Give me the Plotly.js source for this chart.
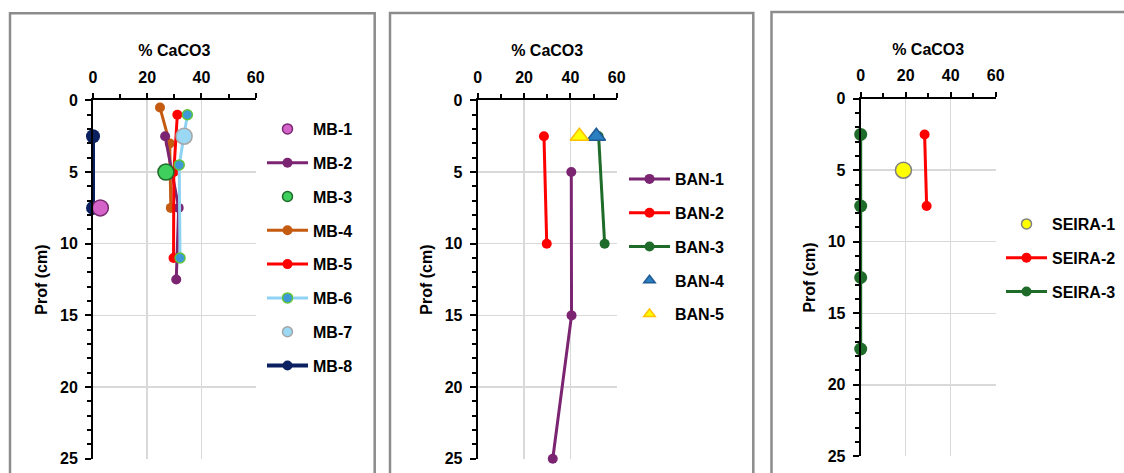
<!DOCTYPE html>
<html><head><meta charset="utf-8">
<script src="https://cdn.plot.ly/plotly-3.0.1.min.js"></script>
<style>html,body{margin:0;padding:0;background:#fff}#chart{width:1124px;height:473px}</style>
</head><body><div id="chart"></div><script>
// ---------- data (x = % CaCO3, y = depth cm) ----------
const mb1X = [2.7],              mb1Y = [7.5];
const mb2X = [26.6, 31.6, 30.7], mb2Y = [2.5, 7.5, 12.5];
const mb3X = [26.9],             mb3Y = [5];
const mb4X = [24.7, 28.3, 28.7], mb4Y = [0.5, 3, 7.5];
const mb5X = [31.1, 29.8, 29.7], mb5Y = [1, 5, 11];
const mb6X = [34.8, 31.8, 32.1], mb6Y = [1, 4.5, 11];
const mb7X = [33.6],             mb7Y = [2.5];
const mb8X = [0, 0],             mb8Y = [2.5, 7.5];

const ban1X = [40.4, 40.5, 32.4], ban1Y = [5, 15, 25];
const ban2X = [28.6, 29.8],       ban2Y = [2.5, 10];
const ban3X = [52.2, 54.8],       ban3Y = [2.5, 10];
const ban4X = [51.2],             ban4Y = [2.5];
const ban5X = [43.9],             ban5Y = [2.5];

const sei1X = [19.0],             sei1Y = [5];
const sei2X = [28.4, 29.3],       sei2Y = [2.5, 7.5];
const sei3X = [0, 0, 0, 0],       sei3Y = [2.5, 7.5, 12.5, 17.5];

const mbNames  = ['MB-1','MB-2','MB-3','MB-4','MB-5','MB-6','MB-7','MB-8'];
const banNames = ['BAN-1','BAN-2','BAN-3','BAN-4','BAN-5'];
const seiNames = ['SEIRA-1','SEIRA-2','SEIRA-3'];

const xTitle = '% CaCO3', yTitle = 'Prof (cm)';
const xTicks = [0, 20, 40, 60];
const yTicks = [0, 5, 10, 15, 20, 25];

// ---------- styling ----------
const FONT = 'Liberation Sans, Arial, sans-serif';
const W = 1124, H = 473;

const PURPLE = '#7b2572', RED = '#ff0000', DGREEN = '#1e6b2a', ORANGE = '#c55a11',
      NAVY = '#0a2060', LBLUE = '#8fd3f4';

// style per series: [lineColor|null, lineWidth, markerSize, markerColor, markerLineColor, symbol, markerLineWidth]
const STY = {
  'MB-1':   [null,   0, 16, '#d464c9', '#7a2a72', 'circle', 1.5],
  'MB-2':   [PURPLE, 3, 10, PURPLE, PURPLE, 'circle', 0],
  'MB-3':   [null,   0, 16, '#3fcf5c', '#1f6b2a', 'circle', 1.5],
  'MB-4':   [ORANGE, 3, 10, ORANGE, ORANGE, 'circle', 0],
  'MB-5':   [RED,    3, 10, RED, RED, 'circle', 0],
  'MB-6':   [LBLUE,  3, 10, '#3d9ad6', '#5fc43a', 'circle', 1.5],
  'MB-7':   [null,   0, 16, '#9bd8f4', '#a6a6a6', 'circle', 1.5],
  'MB-8':   [NAVY,   4, 14, NAVY, NAVY, 'circle', 0],
  'BAN-1':  [PURPLE, 3, 10, PURPLE, PURPLE, 'circle', 0],
  'BAN-2':  [RED,    3, 10, RED, RED, 'circle', 0],
  'BAN-3':  [DGREEN, 3, 10, DGREEN, DGREEN, 'circle', 0],
  'BAN-4':  [null,   0, 16, '#2a7fc1', '#1f5a94', 'triangle-up', 1.5],
  'BAN-5':  [null,   0, 16, '#ffff00', '#ffc000', 'triangle-up', 1.5],
  'SEIRA-1':[null,   0, 16, '#ffff00', '#808080', 'circle', 1.5],
  'SEIRA-2':[RED,    3, 10, RED, RED, 'circle', 0],
  'SEIRA-3':[DGREEN, 3, 13, DGREEN, DGREEN, 'circle', 0],
};

function series(name, x, y, xa, ya) {
  const s = STY[name];
  const t = {type:'scatter', mode: s[0] ? 'lines+markers' : 'markers', name, x, y,
    xaxis:xa, yaxis:ya, showlegend:false, legendgroup:name, cliponaxis:false,
    marker:{size:s[2], color:s[3], symbol:s[5], line:{color:s[4], width:s[6]}}};
  if (s[0]) t.line = {color:s[0], width:s[1]};
  return t;
}
// legend entry (no data drawn), with the smaller legend symbol of the reference
function legendEntry(name, leg, rank) {
  const s = STY[name];
  const t = {type:'scatter', mode: s[0] ? 'lines+markers' : 'markers', name,
    x:[null], y:[null], legend:leg, legendgroup:name, legendrank:rank, showlegend:true,
    marker:{size:10, color:s[3], symbol:s[5], line:{color:s[4], width:s[6]}}};
  if (s[0]) t.line = {color:s[0], width:s[1]};
  return t;
}

const traces = [
  series('MB-8', mb8X, mb8Y, 'x', 'y'),
  series('MB-4', mb4X, mb4Y, 'x', 'y'),
  series('MB-2', mb2X, mb2Y, 'x', 'y'),
  series('MB-5', mb5X, mb5Y, 'x', 'y'),
  series('MB-6', mb6X, mb6Y, 'x', 'y'),
  series('MB-1', mb1X, mb1Y, 'x', 'y'),
  series('MB-3', mb3X, mb3Y, 'x', 'y'),
  series('MB-7', mb7X, mb7Y, 'x', 'y'),

  series('BAN-1', ban1X, ban1Y, 'x2', 'y2'),
  series('BAN-2', ban2X, ban2Y, 'x2', 'y2'),
  series('BAN-3', ban3X, ban3Y, 'x2', 'y2'),
  series('BAN-4', ban4X, ban4Y, 'x2', 'y2'),
  series('BAN-5', ban5X, ban5Y, 'x2', 'y2'),

  series('SEIRA-3', sei3X, sei3Y, 'x3', 'y3'),
  series('SEIRA-2', sei2X, sei2Y, 'x3', 'y3'),
  series('SEIRA-1', sei1X, sei1Y, 'x3', 'y3'),
];
mbNames.forEach((n, i) => traces.push(legendEntry(n, 'legend', i + 1)));
banNames.forEach((n, i) => traces.push(legendEntry(n, 'legend2', i + 1)));
seiNames.forEach((n, i) => traces.push(legendEntry(n, 'legend3', i + 1)));

const tickFont = {family:FONT, size:16, color:'#000', weight:'bold'};
const titleFont = {family:FONT, size:16, color:'#000', weight:'bold'};

function xax(d0, d1, anchor) {
  return {domain:[d0/W, d1/W], anchor, side:'top', range:[0,60], tickvals:xTicks,
    ticks:'outside', ticklen:5, tickwidth:2, tickcolor:'#000', ticklabelstandoff:4,
    showline:true, linecolor:'#000', linewidth:2, zeroline:false,
    showgrid:true, gridcolor:'#d9d9d9', gridwidth:1.5,
    minor:{dtick:10, tick0:0, ticks:'outside', ticklen:4, tickwidth:2, tickcolor:'#000', showgrid:false},
    tickfont:tickFont, title:{text:xTitle, font:titleFont, standoff:8}, fixedrange:true};
}
function yax(top, bot, anchor) {
  return {domain:[(H-bot)/H, (H-top)/H], anchor, range:[25,0], tickvals:yTicks,
    ticks:'outside', ticklen:6, tickwidth:2, tickcolor:'#000', ticklabelstandoff:4,
    showline:true, linecolor:'#000', linewidth:2, zeroline:false,
    showgrid:true, gridcolor:'#d9d9d9', gridwidth:1.5,
    minor:{dtick:1, tick0:0, ticks:'outside', ticklen:4, tickwidth:2, tickcolor:'#000', showgrid:false},
    tickfont:tickFont, title:{text:yTitle, font:titleFont, standoff:8}, fixedrange:true};
}
function leg(xPx, yPx) {
  return {x:xPx/W, y:(H-yPx)/H, xanchor:'left', yanchor:'top', bgcolor:'rgba(0,0,0,0)',
    font:{family:FONT, size:16, color:'#000', weight:'bold'}, tracegroupgap:10,
    traceorder:'grouped', itemwidth:41};
}
function frame(x0, x1, top) {
  return {type:'rect', xref:'paper', yref:'paper', x0:x0/W, x1:x1/W, y0:-0.2, y1:(H-top)/H,
    line:{color:'#8c8c8c', width:2.5}, fillcolor:'rgba(0,0,0,0)', layer:'below'};
}

const layout = {
  width:W, height:H, margin:{l:0, r:0, t:0, b:0},
  paper_bgcolor:'#fff', plot_bgcolor:'#fff', showlegend:true,
  xaxis: xax(93, 255.7, 'y'),   yaxis: yax(100.4, 458.7, 'x'),
  xaxis2:xax(477.7, 616.7, 'y2'), yaxis2:yax(100.4, 458.7, 'x2'),
  xaxis3:xax(860.7, 995.7, 'y3'), yaxis3:yax(98.7, 456.3, 'x3'),
  legend: leg(262, 112),
  legend2:leg(624, 162),
  legend3:leg(1001, 207),
  shapes:[frame(10, 374.7, 13.3), frame(390, 753.3, 13), frame(771.5, 1300, 12)],
};

Plotly.newPlot('chart', traces, layout, {displayModeBar:false, staticPlot:true});
</script></body></html>
